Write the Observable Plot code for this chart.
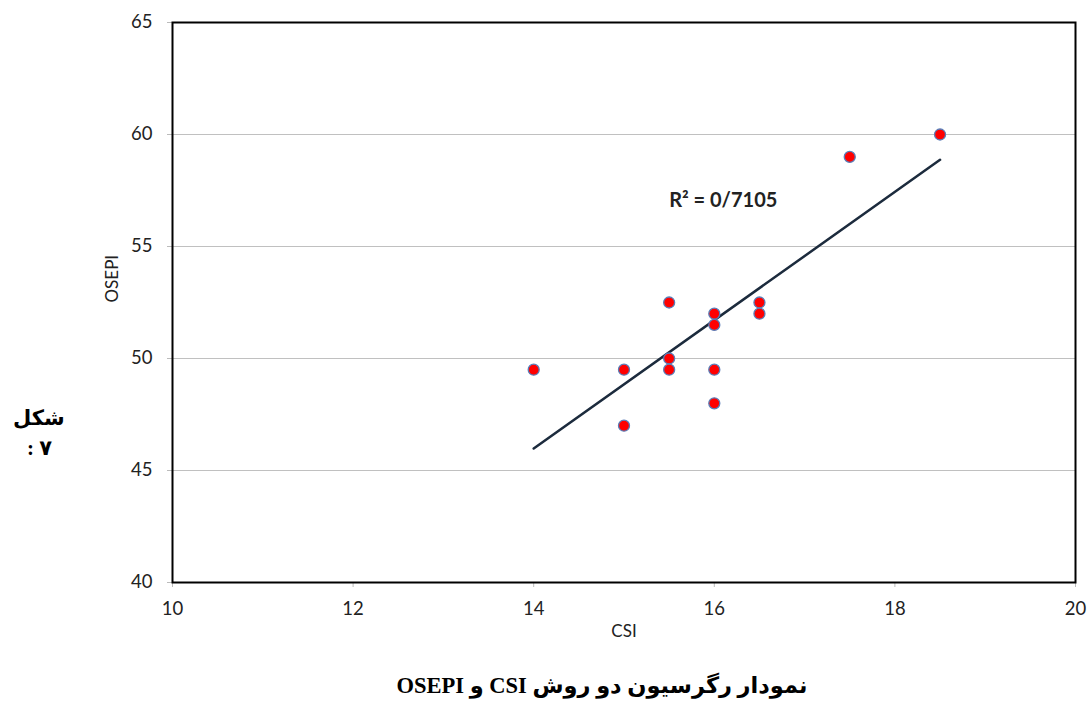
<!DOCTYPE html>
<html>
<head>
<meta charset="utf-8">
<script src="https://cdn.jsdelivr.net/npm/d3@7"></script>
<script src="https://cdn.jsdelivr.net/npm/@observablehq/plot@0.6"></script>
<style>
  html, body { margin: 0; padding: 0; background: #fff; }
  #wrap { position: relative; width: 1089px; height: 704px; }
  #chart svg { display: block; }
  .fa { position: absolute; font-family: "Liberation Serif", "DejaVu Serif", "DejaVu Sans", serif; font-weight: bold; font-size: 21px; color: #000; white-space: nowrap; }
</style>
</head>
<body>
<div id="wrap">
  <div id="chart"></div>
  <div class="fa" id="fig1" style="left:13px; top:406px; direction:rtl;">شکل</div>
  <div class="fa" id="fig2" style="left:27px; top:436px; direction:ltr;">: ۷</div>
  <div class="fa" id="cap" style="left:602px; top:672px; font-size:22.5px; transform:translateX(-50%); direction:rtl;">نمودار رگرسیون دو روش CSI و OSEPI</div>
</div>
<script>
// Data
const csi   = [14, 15, 15, 15.5, 15.5, 15.5, 16, 16, 16, 16, 16.5, 16.5, 17.5, 18.5];
const osepi = [49.5, 49.5, 47, 52.5, 50, 49.5, 52, 51.5, 49.5, 48, 52.5, 52, 59, 60];
const xTicks = [10, 12, 14, 16, 18, 20];
const yTicks = [40, 45, 50, 55, 60, 65];
const labelPos = [{x: 15.5, y: 57.05}];

const data = csi.map((x, i) => ({x, y: osepi[i]}));

// R² computed from the data
const mx = d3.mean(csi), my = d3.mean(osepi);
let sxy = 0, sxx = 0, syy = 0;
data.forEach(d => { sxy += (d.x - mx) * (d.y - my); sxx += (d.x - mx) ** 2; syy += (d.y - my) ** 2; });
const r2 = (sxy * sxy) / (sxx * syy);
const r2Text = "R² = " + r2.toFixed(4).replace(".", "/");

const font = "Lato, 'Open Sans', sans-serif";

const chart = Plot.plot({
  width: 1089,
  height: 650,
  marginTop: 22,
  marginRight: 14,
  marginBottom: 68,
  marginLeft: 172,
  style: {fontFamily: font, fontSize: "16px", color: "#222", background: "#fff"},
  x: {domain: [10, 20], ticks: xTicks},
  y: {domain: [40, 65], ticks: yTicks},
  marks: [
    Plot.gridY(yTicks.filter(t => t > 40 && t < 65), {stroke: "#c0c0c0", strokeOpacity: 1, strokeWidth: 1}),
    Plot.axisX({ticks: xTicks, tickSize: 5, stroke: "#bbbbbb", text: null, label: null}),
    Plot.axisY({ticks: yTicks, tickSize: 5, stroke: "#bbbbbb", text: null, label: null}),
    Plot.axisX({ticks: xTicks, tickSize: 0, tickPadding: 19, fill: "#222", fontSize: 18.5, label: null}),
    Plot.axisY({ticks: yTicks, tickSize: 0, tickPadding: 20, fill: "#222", fontSize: 18.5, label: null}),
    Plot.frame({stroke: "#000", strokeWidth: 2}),
    Plot.linearRegressionY(data, {x: "x", y: "y", stroke: "#1c2b3d", strokeWidth: 2.5, ci: 0}),
    Plot.dot(data, {x: "x", y: "y", r: 5.5, fill: "#ff0000", stroke: "#5a7db8", strokeWidth: 1.3}),
    Plot.text(labelPos, {x: "x", y: "y", text: () => r2Text, textAnchor: "start", fontWeight: "bold", fill: "#222", fontSize: 20}),
    Plot.text(["CSI"], {frameAnchor: "bottom", dy: 54, text: d => d, fill: "#222", fontSize: 17}),
    Plot.text(["OSEPI"], {frameAnchor: "left", dx: -60, rotate: -90, text: d => d, fill: "#222", fontSize: 17})
  ]
});
document.getElementById("chart").appendChild(chart);
</script>
</body>
</html>
